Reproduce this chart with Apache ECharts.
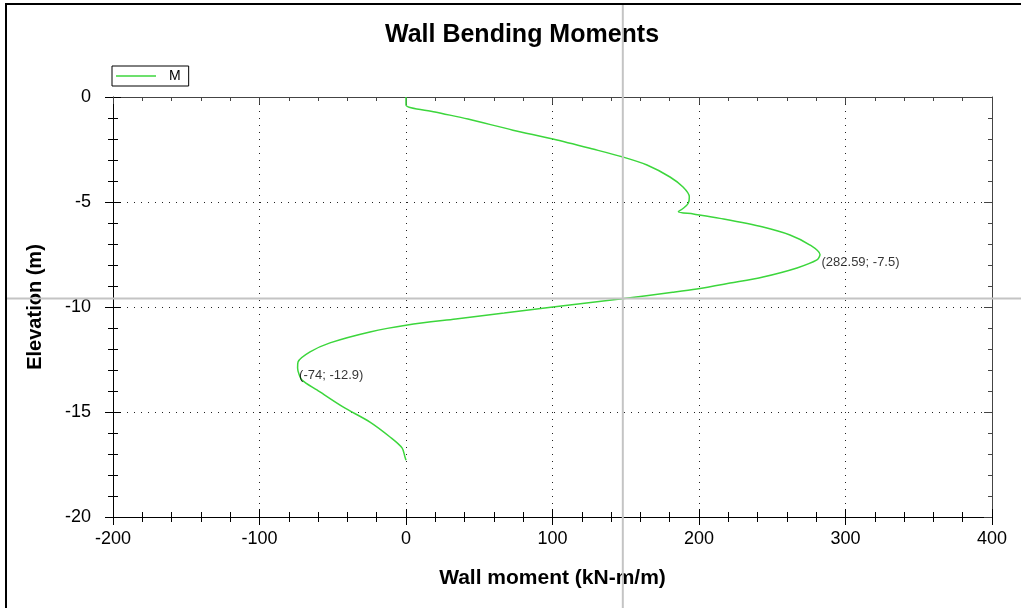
<!DOCTYPE html>
<html><head><meta charset="utf-8">
<script src="https://cdn.jsdelivr.net/npm/echarts@6/dist/echarts.min.js"></script>
<style>html,body{margin:0;padding:0;background:#fff;overflow:hidden}#c{width:1021px;height:608px}</style>
</head><body><div id="c"></div>
<script>
// Elevation (m) and wall moment (kN-m/m)
const elevation = [0, -0.38, -0.71, -1.05, -1.58, -2.0, -2.48, -2.86, -3.24, -3.81, -4.29, -4.75, -5.06, -5.30, -5.46, -5.57, -5.78, -6.19, -6.57, -7.05, -7.5, -7.76, -8.14, -8.57, -8.86, -9.14, -9.3, -9.62, -10.0, -10.29, -10.57, -10.86, -11.19, -11.71, -12.14, -12.62, -12.9, -13.2, -13.48, -13.95, -14.76, -15.48, -16.19, -16.71, -17.14, -17.3];
const moment    = [0, 0, 19.8, 42.3, 73.0, 100.3, 127.6, 148.1, 164.5, 180.2, 189.1, 193.4, 192.7, 189.3, 185.9, 196.1, 214.3, 243.7, 262.1, 275.8, 282.59, 280.5, 266.9, 243.7, 221.2, 198.5, 182.0, 146.1, 100.3, 67.0, 34.0, 1.0, -24.6, -51.9, -65.5, -73.7, -74, -73.0, -71.0, -60.8, -43.0, -24.6, -10.9, -2.7, -0.7, 0];
const seriesName = 'M';
// annotated extreme points
const annotMoment = [282.59, -74];
const annotElev = [-7.5, -12.9];
// cursor crosshair position (data units)
const crosshair = [148, -9.6];
const xRange = [-200, 400, 100];
const yRange = [-20, 0, 5];

const FONT = "'Liberation Sans', Arial, sans-serif";
const chart = echarts.init(document.getElementById('c'), null, {renderer: 'canvas'});

function mkX(kind) {
  const base = {type: 'value', min: xRange[0], max: xRange[1], interval: xRange[2],
    splitLine: {show: false}, axisLabel: {show: false}};
  if (kind === 'main') return Object.assign(base, {
    position: 'bottom',
    axisLine: {show: true, onZero: false, lineStyle: {color: '#000', width: 1}},
    axisTick: {show: true, inside: false, length: 8, lineStyle: {color: '#000'}},
    minorTick: {show: true, splitNumber: 5, length: 5, lineStyle: {color: '#000'}},
    axisLabel: {show: true, fontSize: 18, color: '#000', margin: 13, fontFamily: FONT},
    splitLine: {show: true, lineStyle: {type: [1, 6], color: '#222', width: 1}},
    name: 'Wall moment (kN-m/m)', nameLocation: 'middle', nameGap: 51,
    nameTextStyle: {fontSize: 21, fontWeight: 'bold', color: '#000', fontFamily: FONT}
  });
  if (kind === 'inner') return Object.assign(base, {
    position: 'bottom',
    axisLine: {show: false, onZero: false},
    axisTick: {show: true, inside: true, length: 8, lineStyle: {color: '#000'}},
    minorTick: {show: true, splitNumber: 5, length: 5, lineStyle: {color: '#000'}}
  });
  return Object.assign(base, {
    position: 'top',
    axisLine: {show: true, onZero: false, lineStyle: {color: '#444', width: 1}},
    axisTick: {show: true, inside: true, length: 7, lineStyle: {color: '#444'}},
    minorTick: {show: true, splitNumber: 5, length: 4, lineStyle: {color: '#444'}}
  });
}
function mkY(kind) {
  const base = {type: 'value', min: yRange[0], max: yRange[1], interval: yRange[2],
    splitLine: {show: false}, axisLabel: {show: false}};
  if (kind === 'main') return Object.assign(base, {
    position: 'left',
    axisLine: {show: true, onZero: false, lineStyle: {color: '#000', width: 1}},
    axisTick: {show: true, inside: false, length: 8, lineStyle: {color: '#000'}},
    minorTick: {show: true, splitNumber: 5, length: 5, lineStyle: {color: '#000'}},
    axisLabel: {show: true, fontSize: 18, color: '#000', margin: 22, fontFamily: FONT},
    splitLine: {show: true, lineStyle: {type: [1, 6], color: '#222', width: 1}},
    name: 'Elevation (m)', nameLocation: 'middle', nameGap: 68, nameRotate: 90,
    nameTextStyle: {fontSize: 20, fontWeight: 'bold', color: '#000', fontFamily: FONT}
  });
  if (kind === 'inner') return Object.assign(base, {
    position: 'left',
    axisLine: {show: false, onZero: false},
    axisTick: {show: true, inside: true, length: 8, lineStyle: {color: '#000'}},
    minorTick: {show: true, splitNumber: 5, length: 5, lineStyle: {color: '#000'}}
  });
  return Object.assign(base, {
    position: 'right',
    axisLine: {show: true, onZero: false, lineStyle: {color: '#444', width: 1}},
    axisTick: {show: true, inside: true, length: 8, lineStyle: {color: '#444'}},
    minorTick: {show: true, splitNumber: 5, length: 4, lineStyle: {color: '#444'}}
  });
}

const lineData = moment.map((m, i) => [m, elevation[i]]);
const annotData = annotMoment.map((m, i) => [m, annotElev[i]]);

chart.setOption({
  animation: false,
  backgroundColor: '#fff',
  title: {text: 'Wall Bending Moments', left: 385, top: 23, padding: 0,
    textStyle: {fontSize: 25, fontWeight: 'bold', color: '#000', fontFamily: FONT}},
  legend: {data: [{name: seriesName, icon: 'rect'}], left: 112, top: 66, orient: 'horizontal',
    borderColor: '#000', borderWidth: 1, padding: [3, 8, 3, 4], itemWidth: 40, itemHeight: 1.5,
    backgroundColor: '#fff', borderRadius: 0,
    textStyle: {fontSize: 14, color: '#000', fontFamily: FONT, padding: [0, 0, 0, 8]}},
  grid: {left: 113, top: 97, right: 29, bottom: 91, containLabel: false},
  xAxis: [mkX('main'), mkX('inner'), mkX('top')],
  yAxis: [mkY('main'), mkY('inner'), mkY('right')],
  series: [
    {type: 'line', name: seriesName, data: lineData, xAxisIndex: 0, yAxisIndex: 0,
      symbol: 'none', showSymbol: false, smooth: 0.3,
      lineStyle: {color: '#3cd63c', width: 1.5}, itemStyle: {color: '#3cd63c'}, z: 3},
    {type: 'scatter', name: 'annot', data: annotData, xAxisIndex: 0, yAxisIndex: 0,
      symbolSize: 1, itemStyle: {color: 'rgba(0,0,0,0)'}, silent: true, z: 4,
      label: {show: true, position: 'right', distance: 1, offset: [0, 8],
        formatter: p => '(' + p.value[0] + '; ' + p.value[1] + ')',
        fontSize: 13, color: '#000', fontFamily: FONT}}
  ]
});

const cp = chart.convertToPixel({xAxisIndex: 0, yAxisIndex: 0}, crosshair);
chart.setOption({
  graphic: [
    {type: 'rect', shape: {x: 6, y: 4, width: 1200, height: 800}, z: 50,
      style: {fill: 'none', stroke: '#000', lineWidth: 2}, silent: true},
    {type: 'line', shape: {x1: cp[0], y1: 5, x2: cp[0], y2: 608}, z: 100,
      style: {stroke: '#c4c4c4', lineWidth: 2}, silent: true},
    {type: 'line', shape: {x1: 7, y1: cp[1], x2: 1021, y2: cp[1]}, z: 100,
      style: {stroke: '#c4c4c4', lineWidth: 2}, silent: true}
  ]
});
</script>
</body></html>
